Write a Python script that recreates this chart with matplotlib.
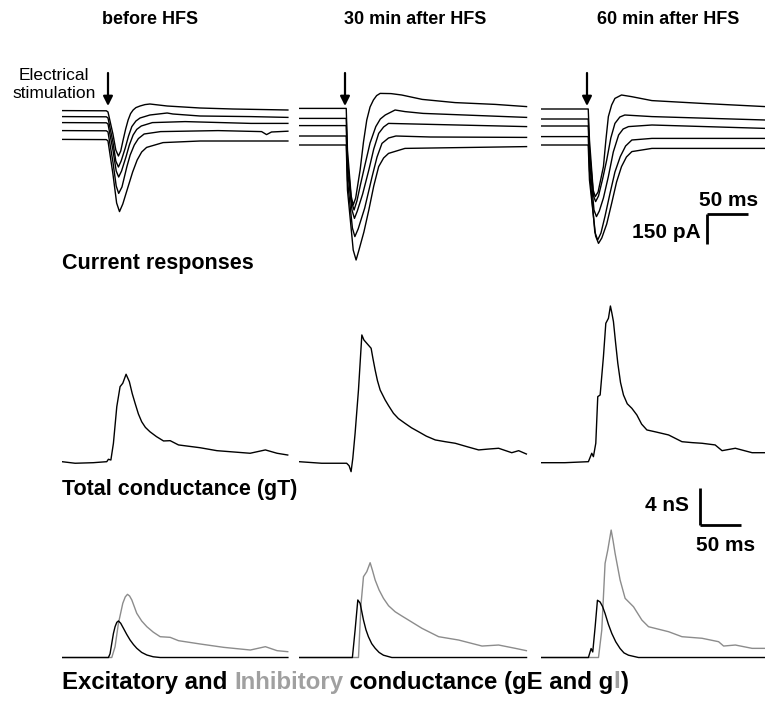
import numpy as np
import matplotlib
matplotlib.use("Agg")
import matplotlib.pyplot as plt
from matplotlib.offsetbox import TextArea, HPacker, AnchoredOffsetbox

plt.rcParams["font.family"] = ["Liberation Sans", "DejaVu Sans"]

W, H = 765, 701

titles = ["before HFS", "30 min after HFS", "60 min after HFS"]

# current responses (t in ms, I in pA), five holding levels per condition
cur_before = [
    [(0, -3), (54, -4), (56, -10), (62, -120), (65.5, -200), (68.7, -230), (71.5, -205),
     (74.4, -150), (77.5, -95), (80.5, -50), (83.5, -18), (86.6, 0), (90, 12), (95, 20),
     (101, 27), (107, 30), (128, 20), (168, 10), (208, 5), (275, 0)],
    [(0, -33), (54, -34), (56, -40), (62, -160), (65.5, -255), (68.7, -285), (72, -255),
     (77, -190), (81, -130), (85, -83), (90, -55), (95, -40), (107, -25), (128, -15), (135, -20),
     (168, -30), (230, -33), (275, -37)],
    [(0, -63), (54, -64), (56, -70), (62, -200), (66, -305), (69, -335), (72.5, -305),
     (78, -233), (82, -175), (86.6, -125), (91, -97), (96.5, -80), (110, -63), (150, -58),
     (230, -67), (275, -67)],
    [(0, -103), (54, -104), (56, -110), (62, -260), (66, -380), (69, -417), (73, -385),
     (79, -283), (83, -225), (88, -175), (93, -143), (100, -120), (120, -108), (190, -103),
     (243, -108), (249, -123), (255, -110), (275, -106)],
    [(0, -147), (54, -148), (56, -155), (62, -320), (66.5, -465), (70, -508), (74, -470),
     (80.5, -383), (86, -310), (91.5, -250), (97, -210), (103, -187), (123, -163), (168, -155),
     (275, -155)],
]
cur_30min = [
    [(0, 8), (57.5, 8), (59, -200), (63.5, -430), (66, -475), (69, -440), (74.4, -300),
     (78.5, -160), (82.5, -50), (86.5, 15), (90.6, 50), (94.5, 72), (98.8, 83), (112, 82),
     (125, 75), (150, 53), (190, 37), (239, 28), (277, 17)],
    [(0, -42), (57.5, -42), (59, -250), (64, -460), (67, -500), (70.5, -455), (75, -370),
     (80, -280), (86.5, -165), (93.5, -83), (99, -45), (105, -25), (117, 0), (129, -8),
     (151, -17), (277, -37)],
    [(0, -78), (57.5, -78), (59, -300), (64.5, -500), (67.5, -542), (71, -505), (77.5, -420),
     (85, -300), (91, -195), (97, -117), (103, -85), (109, -67), (140, -70), (277, -83)],
    [(0, -130), (57.5, -130), (59, -350), (65, -590), (68, -633), (72, -595), (80, -490),
     (89, -333), (95, -235), (101, -167), (109, -140), (118, -130), (160, -135), (277, -137)],
    [(0, -175), (57.5, -175), (59, -400), (66, -700), (69.5, -750), (73, -700), (79, -610),
     (85, -500), (91, -380), (97, -283), (103, -240), (109, -217), (129, -192), (277, -183)],
]
cur_60min = [
    [(0, 5), (57.5, 5), (59, -150), (63.5, -400), (66, -433), (69.5, -410), (76, -283),
     (79, -150), (82, -33), (86, 25), (90, 58), (98, 75), (110, 67), (135, 47), (196, 33),
     (273, 17)],
    [(0, -45), (57.5, -45), (59, -200), (64, -430), (66.5, -458), (70, -430), (75, -345),
     (80, -250), (85, -140), (90, -67), (96, -35), (102, -25), (135, -33), (273, -50)],
    [(0, -80), (57.5, -80), (59, -250), (64.5, -500), (67.5, -533), (71, -505), (76, -440),
     (82, -333), (88, -210), (94.5, -125), (100, -95), (106.5, -83), (135, -75), (273, -92)],
    [(0, -133), (57.5, -133), (59, -300), (65.5, -610), (69, -650), (73, -615), (78, -530),
     (84, -417), (90, -310), (96.5, -233), (103, -180), (110.6, -150), (135, -142), (273, -142)],
    [(0, -175), (57.5, -175), (59, -350), (66.5, -630), (70, -667), (74, -640), (80, -570),
     (86, -467), (92, -360), (98, -283), (104, -235), (110.6, -208), (135, -192), (273, -192)],
]

# total conductance gT (t in ms, nS)
gt_before = [(0, 0.14), (16, -0.03), (38, 0.03), (54.5, 0.14), (56.5, 0.4), (59.5, 0.32),
             (62.6, 2.13), (66.7, 6.09), (70.7, 8.25), (74, 8.62), (78, 9.59), (82, 8.79),
             (85.5, 7.5), (89, 6.45), (93, 5.3), (97, 4.46), (101.5, 3.85), (107, 3.38),
             (115, 2.85), (123.6, 2.38), (131.7, 2.41), (141.8, 1.95), (168, 1.65),
             (188.6, 1.33), (229, 1.05), (247.6, 1.41), (261.8, 1.05), (274.8, 0.86)]
gt_30min = [(0, 0.14), (27.6, -0.03), (58, -0.03), (61, -0.3), (63.4, -0.94), (65.5, 0.5),
            (68.3, 3.21), (72.4, 7.89), (76.5, 13.84), (79, 13.3), (82.5, 12.94), (87.8, 12.4),
            (90, 11.3), (92.7, 10.05), (95.5, 8.9), (98.8, 7.89), (104.9, 6.81), (109, 6.2),
            (115, 5.37), (121, 4.8), (129, 4.29), (137, 3.8), (145.5, 3.38), (155, 2.9),
            (165.9, 2.49), (178, 2.3), (190.2, 2.13), (205, 1.75), (218.7, 1.41), (230, 1.5),
            (243, 1.59), (259, 1.11), (267.4, 1.33), (276.8, 0.97)]
gt_60min = [(0, 0.03), (29, 0.03), (57.7, 0.14), (61.8, 1.05), (63.8, 0.68), (66.7, 2.13),
            (69.1, 7.17), (72, 7.35), (76, 11.49), (78.9, 15.1), (82.1, 15.64), (84.5, 16.97),
            (86.3, 16.2), (88.2, 15.28), (90.8, 13.0), (93.5, 10.78), (96.8, 8.7),
            (100.4, 7.35), (105, 6.4), (110.6, 5.91), (116.7, 5.19), (122.5, 4.2),
            (128.9, 3.57), (140, 3.35), (155.3, 3.03), (171.6, 2.3), (184, 2.2), (196, 2.13),
            (212, 1.95), (220.4, 1.33), (236.6, 1.59), (257, 1.11), (273, 1.11)]

# excitatory gE and inhibitory gI conductance (t in ms, nS)
ge_before = [(0, 0), (56.5, 0), (58.5, 0.4), (60.6, 1.54), (62.6, 2.6), (64.6, 3.33),
             (66.7, 3.8), (68.7, 3.95), (71.5, 3.7), (74.8, 3.16), (78.8, 2.5), (82.9, 1.89),
             (87, 1.4), (91, 1.0), (97, 0.55), (103.3, 0.27), (111, 0.08), (119.5, 0), (275, 0)]
gi_before = [(0, 0), (60.6, 0), (64.6, 1.17), (68.7, 3.7), (74, 5.86), (77, 6.55), (79.7, 6.83),
             (82.3, 6.65), (85, 6.22), (91, 4.78), (97, 3.95), (103.3, 3.33), (111, 2.75),
             (119.5, 2.25), (131.7, 2.18), (141.8, 1.82), (168.3, 1.46), (196.7, 1.1),
             (229.3, 0.81), (247.6, 1.17), (261.8, 0.74), (274.8, 0.63)]
ge_30min = [(0, 0), (65, 0), (68.3, 2.97), (71.6, 6.22), (74.4, 5.86), (78.5, 4.05),
            (81.5, 3.0), (84.5, 2.25), (88.5, 1.5), (92.7, 1.0), (97.5, 0.55), (102.8, 0.25),
            (113, 0), (277, 0)]
gi_30min = [(0, 0), (72.4, 0), (75.6, 5.86), (78.5, 8.74), (82.5, 9.28), (86.6, 10.25),
            (89.5, 9.4), (92.7, 8.38), (97.5, 7.3), (102.8, 6.4), (109, 5.6), (117, 4.95),
            (125, 4.5), (133.3, 4.05), (149.6, 3.16), (170, 2.25), (194.3, 1.89), (222.8, 1.24),
            (243, 1.35), (263.4, 0.99), (276.8, 0.74)]
ge_60min = [(0, 0), (57.7, 0), (61, 0.97), (63, 0.6), (65.9, 3.3), (68.7, 6.19), (72, 6.0),
            (75, 5.5), (78, 4.76), (82, 3.6), (86.2, 2.6), (91, 1.7), (96.3, 0.97),
            (101, 0.5), (106.5, 0.25), (118.7, 0), (273, 0)]
gi_60min = [(0, 0), (70, 0), (74, 2.97), (78, 10.18), (81.3, 11.62), (85.4, 13.78),
            (87.8, 12.6), (90.2, 11.26), (96.3, 8.38), (102.4, 6.4), (112.6, 5.49),
            (122.8, 4.05), (130.9, 3.33), (155.3, 2.79), (171.6, 2.25), (196, 2.08),
            (216.2, 1.71), (222.3, 1.24), (236.6, 1.35), (257, 0.99), (273, 0.99)]

stim_t = 56  # ms


def rect(left, top, width, height):
    return [left / W, 1 - (top + height) / H, width / W, height / H]


def trace(ax, pts, **kw):
    a = np.array(pts)
    ax.plot(a[:, 0], a[:, 1], **kw)


def main():
    fig = plt.figure(figsize=(W / 100, H / 100), dpi=100)

    lefts = [62, 299, 541]
    currents = [cur_before, cur_30min, cur_60min]
    totals = [gt_before, gt_30min, gt_60min]
    excit = [ge_before, ge_30min, ge_60min]
    inhib = [gi_before, gi_30min, gi_60min]
    title_x = [150, 415, 668]

    cur_axes, ei_axes = [], []
    for i in range(3):
        # row 1: current responses
        ax = fig.add_axes(rect(lefts[i], 60, 230, 210))
        ax.set_xlim(0, 280)
        ax.set_ylim(-800, 250)
        ax.axis("off")
        for tr in currents[i]:
            trace(ax, tr, color="black", lw=1.0)
        ax.annotate("", xy=(stim_t, 20), xytext=(stim_t, 185),
                    arrowprops=dict(arrowstyle="-|>", lw=1.6, color="black",
                                    mutation_scale=14, shrinkA=0, shrinkB=0))
        cur_axes.append(ax)

        # row 2: total conductance
        ax = fig.add_axes(rect(lefts[i], 280, 230, 195))
        ax.set_xlim(0, 280)
        ax.set_ylim(-1.3, 19.78)
        ax.axis("off")
        trace(ax, totals[i], color="black", lw=1.0)

        # row 3: excitatory and inhibitory conductance
        ax = fig.add_axes(rect(lefts[i], 500, 230, 165))
        ax.set_xlim(0, 280)
        ax.set_ylim(-0.81, 17.03)
        ax.axis("off")
        trace(ax, inhib[i], color="#8c8c8c", lw=1.0)
        trace(ax, excit[i], color="black", lw=1.0)
        ei_axes.append(ax)

        fig.text(title_x[i] / W, 1 - 20 / H, titles[i], ha="center", va="center",
                 fontsize=13, fontweight="bold")

    fig.text(54 / W, 1 - 84 / H, "Electrical\nstimulation", ha="center", va="center",
             fontsize=12.5, linespacing=1.25)

    bold = dict(fontsize=15, fontweight="bold")

    # scale bar for the currents: 50 ms / 150 pA
    ax = cur_axes[2]
    ax.plot([202, 252], [-520, -520], color="black", lw=2, clip_on=False,
            solid_capstyle="butt")
    ax.plot([202, 202], [-520, -670], color="black", lw=2, clip_on=False,
            solid_capstyle="butt")
    ax.text(228, -450, "50 ms", ha="center", va="center", **bold)
    ax.text(194, -610, "150 pA", ha="right", va="center", **bold)

    # scale bar for the conductances: 50 ms / 4 nS
    ax = ei_axes[2]
    ax.plot([194, 194], [18.3, 14.3], color="black", lw=2, clip_on=False,
            solid_capstyle="butt")
    ax.plot([194, 244], [14.3, 14.3], color="black", lw=2, clip_on=False,
            solid_capstyle="butt")
    ax.text(180, 16.4, "4 nS", ha="right", va="center", **bold)
    ax.text(225, 12.1, "50 ms", ha="center", va="center", **bold)

    lab = dict(fontsize=15.5, fontweight="bold")
    fig.text(62 / W, 1 - 263 / H, "Current responses", ha="left", va="center", **lab)
    fig.text(62 / W, 1 - 490 / H, "Total conductance (gT)", ha="left", va="center", **lab)

    grey = "#a0a0a0"
    parts = [("Excitatory and ", "black"), ("Inhibitory", grey),
             (" conductance (gE and g", "black"), ("I", grey), (")", "black")]
    boxes = [TextArea(s, textprops=dict(color=c, fontsize=17.3, fontweight="bold"))
             for s, c in parts]
    packed = HPacker(children=boxes, align="baseline", pad=0, sep=0)
    anchored = AnchoredOffsetbox(loc="center left", child=packed, pad=0, frameon=False,
                                 bbox_to_anchor=(62 / W, 1 - 682 / H),
                                 bbox_transform=fig.transFigure, borderpad=0)
    fig.add_artist(anchored)

    fig.savefig("out.png", dpi=100)


if __name__ == "__main__":
    main()
